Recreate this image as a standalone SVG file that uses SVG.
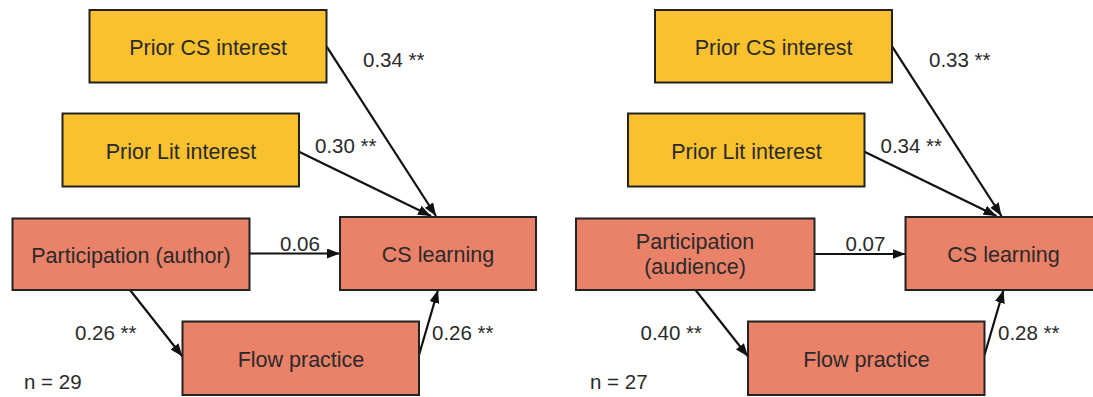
<svg xmlns="http://www.w3.org/2000/svg" width="1093" height="397" viewBox="0 0 1093 397">
<style>
.y{fill:#FAC12E;stroke:#222;stroke-width:2}
.o{fill:#EA8169;stroke:#222;stroke-width:2}
.t{font-family:"Liberation Sans",Arial,sans-serif;font-size:21.5px;fill:#2a2a2a;text-anchor:middle}
.l{font-family:"Liberation Sans",Arial,sans-serif;font-size:20.5px;fill:#2a2a2a}
.c{fill:none;stroke:#111;stroke-width:2.2}
</style>
<defs>
<marker id="ah" markerUnits="userSpaceOnUse" markerWidth="14" markerHeight="10" refX="13" refY="5" orient="auto">
<path d="M0,0 L13,5 L0,10 z" fill="#111"/>
</marker>
</defs>
<rect width="1093" height="397" fill="#fff"/>

<g id="connectors">
<path class="c" marker-end="url(#ah)" d="M326.7,46.7 L436,216"/>
<path class="c" marker-end="url(#ah)" d="M299,151.7 L431,216"/>
<path class="c" marker-end="url(#ah)" d="M249.5,253.5 L340,253.5"/>
<path class="c" marker-end="url(#ah)" d="M130,290 L182.5,356.5"/>
<path class="c" marker-end="url(#ah)" d="M419,355 L438,290"/>
<path class="c" marker-end="url(#ah)" d="M892.2,46.7 L1001.5,216"/>
<path class="c" marker-end="url(#ah)" d="M864.5,151.7 L996.5,216"/>
<path class="c" marker-end="url(#ah)" d="M814.5,254 L905.5,254"/>
<path class="c" marker-end="url(#ah)" d="M695.5,290 L748,356.5"/>
<path class="c" marker-end="url(#ah)" d="M984.5,355 L1003.5,290"/>
</g>

<g id="labels">
<text class="l" x="363" y="66.5">0.34 **</text>
<text class="l" x="315" y="153">0.30 **</text>
<text class="l" x="280" y="250.5">0.06</text>
<text class="l" x="75" y="339.5">0.26 **</text>
<text class="l" x="432" y="340">0.26 **</text>
<text class="l" x="24" y="388.5">n = 29</text>
<text class="l" x="929" y="66.5">0.33 **</text>
<text class="l" x="880.5" y="153">0.34 **</text>
<text class="l" x="845.5" y="250.5">0.07</text>
<text class="l" x="640.5" y="339.5">0.40 **</text>
<text class="l" x="998" y="340">0.28 **</text>
<text class="l" x="590" y="388.5">n = 27</text>
</g>

<g id="prior-cs-1"><rect class="y" x="89.5" y="10" width="237" height="72.5"/><text class="t" x="208" y="54.5">Prior CS interest</text></g>
<g id="prior-lit-1"><rect class="y" x="62.5" y="113.5" width="236.5" height="73"/><text class="t" x="181" y="158.5">Prior Lit interest</text></g>
<g id="participation-1"><rect class="o" x="12.5" y="218.5" width="237" height="71.5"/><text class="t" x="131" y="262.5">Participation (author)</text></g>
<g id="cs-learning-1"><rect class="o" x="340" y="217" width="196" height="73"/><text class="t" x="438" y="262">CS learning</text></g>
<g id="flow-1"><rect class="o" x="182.5" y="321.5" width="236.5" height="73.5"/><text class="t" x="301" y="366.5">Flow practice</text></g>

<g id="prior-cs-2"><rect class="y" x="655" y="10" width="237" height="72.5"/><text class="t" x="773.5" y="54.5">Prior CS interest</text></g>
<g id="prior-lit-2"><rect class="y" x="628" y="113.5" width="236.5" height="73"/><text class="t" x="746.5" y="158.5">Prior Lit interest</text></g>
<g id="participation-2"><rect class="o" x="576" y="218.5" width="238.5" height="71.5"/><text class="t" x="695" y="249">Participation</text><text class="t" x="695" y="274">(audience)</text></g>
<g id="cs-learning-2"><rect class="o" x="905.5" y="217" width="196" height="73"/><text class="t" x="1003.5" y="262">CS learning</text></g>
<g id="flow-2"><rect class="o" x="748" y="321.5" width="236.5" height="73.5"/><text class="t" x="866.5" y="366.5">Flow practice</text></g>
</svg>
